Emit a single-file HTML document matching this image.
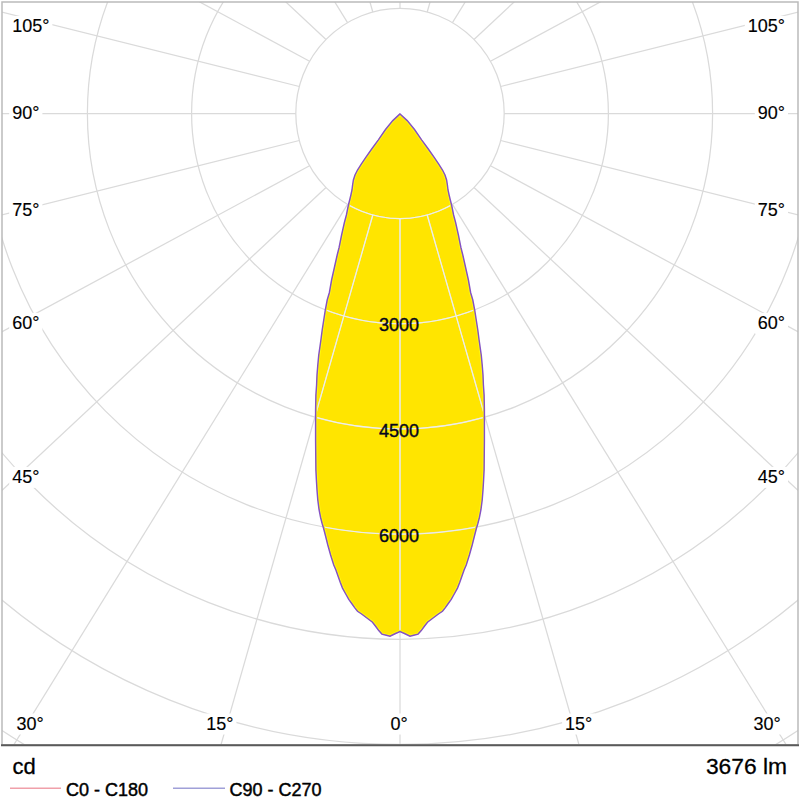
<!DOCTYPE html>
<html><head><meta charset="utf-8"><style>
html,body{margin:0;padding:0;background:#fff;width:800px;height:800px;overflow:hidden}
svg{display:block}
text{font-family:"Liberation Sans",sans-serif;font-size:18px;fill:#000;stroke:#000;stroke-width:0.15px}
.lg{stroke-width:0.45px}
.vl{stroke-width:0.4px;fill:#05051e;stroke:#05051e}
.bt{stroke-width:0.3px}
</style></head><body>
<svg width="800" height="800" viewBox="0 0 800 800">
<defs><clipPath id="pc"><polygon points="400.00,113.90 392.80,120.60 385.50,129.50 378.20,140.10 371.70,149.00 366.00,157.10 361.10,164.40 357.50,170.00 355.00,175.00 353.40,180.00 352.60,185.00 352.00,190.00 350.90,195.00 349.70,200.00 348.40,205.00 347.40,210.00 346.40,215.00 344.40,222.50 341.60,235.00 339.10,247.50 337.20,255.00 334.40,267.50 331.60,280.00 329.40,292.50 327.20,300.00 325.30,310.00 323.75,320.00 322.20,330.00 320.90,340.00 319.90,347.00 318.75,355.00 317.80,365.00 317.00,375.00 316.60,385.00 315.90,395.00 315.60,410.00 315.60,440.00 315.90,470.00 316.40,480.00 317.00,490.00 317.80,500.00 319.10,510.00 320.60,517.50 322.20,523.75 323.50,528.00 325.30,535.00 327.80,545.00 330.60,555.00 333.75,565.00 335.90,570.00 338.10,576.25 340.30,582.50 342.50,588.10 345.60,593.75 348.75,599.40 351.90,603.75 355.00,608.10 357.50,611.25 361.25,613.75 366.25,617.50 372.50,622.20 375.60,626.25 378.75,630.60 381.90,634.10 386.25,635.30 390.00,636.25 395.00,633.75 400.00,631.60 405.00,633.75 410.00,636.25 413.75,635.30 418.10,634.10 421.25,630.60 424.40,626.25 427.50,622.20 433.75,617.50 438.75,613.75 442.50,611.25 445.00,608.10 448.10,603.75 451.25,599.40 454.40,593.75 457.50,588.10 459.70,582.50 461.90,576.25 464.10,570.00 466.25,565.00 469.40,555.00 472.20,545.00 474.70,535.00 476.50,528.00 477.80,523.75 479.40,517.50 480.90,510.00 482.20,500.00 483.00,490.00 483.60,480.00 484.10,470.00 484.40,440.00 484.40,410.00 484.10,395.00 483.40,385.00 483.00,375.00 482.20,365.00 481.25,355.00 480.10,347.00 479.10,340.00 477.80,330.00 476.25,320.00 474.70,310.00 472.80,300.00 470.60,292.50 468.40,280.00 465.60,267.50 462.80,255.00 460.90,247.50 458.40,235.00 455.60,222.50 453.60,215.00 452.60,210.00 451.60,205.00 450.30,200.00 449.10,195.00 448.00,190.00 447.40,185.00 446.60,180.00 445.00,175.00 442.50,170.00 438.90,164.40 434.00,157.10 428.30,149.00 421.80,140.10 414.50,129.50 407.20,120.60"/></clipPath><clipPath id="fr"><rect x="2" y="2" width="796" height="742.5"/></clipPath></defs>
<rect x="0" y="0" width="800" height="800" fill="#fff"/>
<g clip-path="url(#fr)">
<polygon points="400.00,113.90 392.80,120.60 385.50,129.50 378.20,140.10 371.70,149.00 366.00,157.10 361.10,164.40 357.50,170.00 355.00,175.00 353.40,180.00 352.60,185.00 352.00,190.00 350.90,195.00 349.70,200.00 348.40,205.00 347.40,210.00 346.40,215.00 344.40,222.50 341.60,235.00 339.10,247.50 337.20,255.00 334.40,267.50 331.60,280.00 329.40,292.50 327.20,300.00 325.30,310.00 323.75,320.00 322.20,330.00 320.90,340.00 319.90,347.00 318.75,355.00 317.80,365.00 317.00,375.00 316.60,385.00 315.90,395.00 315.60,410.00 315.60,440.00 315.90,470.00 316.40,480.00 317.00,490.00 317.80,500.00 319.10,510.00 320.60,517.50 322.20,523.75 323.50,528.00 325.30,535.00 327.80,545.00 330.60,555.00 333.75,565.00 335.90,570.00 338.10,576.25 340.30,582.50 342.50,588.10 345.60,593.75 348.75,599.40 351.90,603.75 355.00,608.10 357.50,611.25 361.25,613.75 366.25,617.50 372.50,622.20 375.60,626.25 378.75,630.60 381.90,634.10 386.25,635.30 390.00,636.25 395.00,633.75 400.00,631.60 405.00,633.75 410.00,636.25 413.75,635.30 418.10,634.10 421.25,630.60 424.40,626.25 427.50,622.20 433.75,617.50 438.75,613.75 442.50,611.25 445.00,608.10 448.10,603.75 451.25,599.40 454.40,593.75 457.50,588.10 459.70,582.50 461.90,576.25 464.10,570.00 466.25,565.00 469.40,555.00 472.20,545.00 474.70,535.00 476.50,528.00 477.80,523.75 479.40,517.50 480.90,510.00 482.20,500.00 483.00,490.00 483.60,480.00 484.10,470.00 484.40,440.00 484.40,410.00 484.10,395.00 483.40,385.00 483.00,375.00 482.20,365.00 481.25,355.00 480.10,347.00 479.10,340.00 477.80,330.00 476.25,320.00 474.70,310.00 472.80,300.00 470.60,292.50 468.40,280.00 465.60,267.50 462.80,255.00 460.90,247.50 458.40,235.00 455.60,222.50 453.60,215.00 452.60,210.00 451.60,205.00 450.30,200.00 449.10,195.00 448.00,190.00 447.40,185.00 446.60,180.00 445.00,175.00 442.50,170.00 438.90,164.40 434.00,157.10 428.30,149.00 421.80,140.10 414.50,129.50 407.20,120.60" fill="#ffe500"/>
<g fill="none" stroke="#dadada" stroke-width="1.25">
<ellipse cx="400.0" cy="113.5" rx="104.20" ry="105.15"/>
<ellipse cx="400.0" cy="113.5" rx="208.40" ry="210.30"/>
<ellipse cx="400.0" cy="113.5" rx="312.60" ry="315.45"/>
<ellipse cx="400.0" cy="113.5" rx="416.80" ry="420.60"/>
<ellipse cx="400.0" cy="113.5" rx="521.00" ry="525.75"/>
<ellipse cx="400.0" cy="113.5" rx="625.20" ry="630.90"/>
<ellipse cx="400.0" cy="113.5" rx="729.40" ry="736.05"/>
<ellipse cx="400.0" cy="113.5" rx="833.60" ry="841.20"/>
<line x1="400.00" y1="218.65" x2="400.00" y2="1418.65"/>
<line x1="427.20" y1="215.00" x2="757.78" y2="1368.57"/>
<line x1="452.46" y1="204.35" x2="1082.93" y2="1225.39"/>
<line x1="474.01" y1="187.51" x2="1350.55" y2="1007.08"/>
<line x1="490.44" y1="165.72" x2="1546.41" y2="735.75"/>
<line x1="500.71" y1="140.49" x2="1664.74" y2="432.11"/>
<line x1="504.20" y1="113.50" x2="1704.20" y2="113.50"/>
<line x1="500.71" y1="86.51" x2="1664.74" y2="-205.11"/>
<line x1="490.44" y1="61.28" x2="1546.41" y2="-508.75"/>
<line x1="474.01" y1="39.49" x2="1350.55" y2="-780.08"/>
<line x1="452.46" y1="22.65" x2="1082.93" y2="-998.39"/>
<line x1="427.20" y1="12.00" x2="757.78" y2="-1141.57"/>
<line x1="400.00" y1="8.35" x2="400.00" y2="-1191.65"/>
<line x1="372.80" y1="12.00" x2="42.22" y2="-1141.57"/>
<line x1="347.54" y1="22.65" x2="-282.93" y2="-998.39"/>
<line x1="325.99" y1="39.49" x2="-550.55" y2="-780.08"/>
<line x1="309.56" y1="61.28" x2="-746.41" y2="-508.75"/>
<line x1="299.29" y1="86.51" x2="-864.74" y2="-205.11"/>
<line x1="295.80" y1="113.50" x2="-904.20" y2="113.50"/>
<line x1="299.29" y1="140.49" x2="-864.74" y2="432.11"/>
<line x1="309.56" y1="165.72" x2="-746.41" y2="735.75"/>
<line x1="325.99" y1="187.51" x2="-550.55" y2="1007.08"/>
<line x1="347.54" y1="204.35" x2="-282.93" y2="1225.39"/>
<line x1="372.80" y1="215.00" x2="42.22" y2="1368.57"/>
</g>
<g fill="none" stroke="#f2f1e0" stroke-width="1.1" clip-path="url(#pc)">
<ellipse cx="400.0" cy="113.5" rx="104.20" ry="105.15"/>
<ellipse cx="400.0" cy="113.5" rx="208.40" ry="210.30"/>
<ellipse cx="400.0" cy="113.5" rx="312.60" ry="315.45"/>
<ellipse cx="400.0" cy="113.5" rx="416.80" ry="420.60"/>
<ellipse cx="400.0" cy="113.5" rx="521.00" ry="525.75"/>
<ellipse cx="400.0" cy="113.5" rx="625.20" ry="630.90"/>
<ellipse cx="400.0" cy="113.5" rx="729.40" ry="736.05"/>
<ellipse cx="400.0" cy="113.5" rx="833.60" ry="841.20"/>
<line x1="400.00" y1="218.65" x2="400.00" y2="1418.65"/>
<line x1="427.20" y1="215.00" x2="757.78" y2="1368.57"/>
<line x1="452.46" y1="204.35" x2="1082.93" y2="1225.39"/>
<line x1="474.01" y1="187.51" x2="1350.55" y2="1007.08"/>
<line x1="490.44" y1="165.72" x2="1546.41" y2="735.75"/>
<line x1="500.71" y1="140.49" x2="1664.74" y2="432.11"/>
<line x1="504.20" y1="113.50" x2="1704.20" y2="113.50"/>
<line x1="500.71" y1="86.51" x2="1664.74" y2="-205.11"/>
<line x1="490.44" y1="61.28" x2="1546.41" y2="-508.75"/>
<line x1="474.01" y1="39.49" x2="1350.55" y2="-780.08"/>
<line x1="452.46" y1="22.65" x2="1082.93" y2="-998.39"/>
<line x1="427.20" y1="12.00" x2="757.78" y2="-1141.57"/>
<line x1="400.00" y1="8.35" x2="400.00" y2="-1191.65"/>
<line x1="372.80" y1="12.00" x2="42.22" y2="-1141.57"/>
<line x1="347.54" y1="22.65" x2="-282.93" y2="-998.39"/>
<line x1="325.99" y1="39.49" x2="-550.55" y2="-780.08"/>
<line x1="309.56" y1="61.28" x2="-746.41" y2="-508.75"/>
<line x1="299.29" y1="86.51" x2="-864.74" y2="-205.11"/>
<line x1="295.80" y1="113.50" x2="-904.20" y2="113.50"/>
<line x1="299.29" y1="140.49" x2="-864.74" y2="432.11"/>
<line x1="309.56" y1="165.72" x2="-746.41" y2="735.75"/>
<line x1="325.99" y1="187.51" x2="-550.55" y2="1007.08"/>
<line x1="347.54" y1="204.35" x2="-282.93" y2="1225.39"/>
<line x1="372.80" y1="215.00" x2="42.22" y2="1368.57"/>
</g>
<polygon points="400.00,113.90 392.80,120.60 385.50,129.50 378.20,140.10 371.70,149.00 366.00,157.10 361.10,164.40 357.50,170.00 355.00,175.00 353.40,180.00 352.60,185.00 352.00,190.00 350.90,195.00 349.70,200.00 348.40,205.00 347.40,210.00 346.40,215.00 344.40,222.50 341.60,235.00 339.10,247.50 337.20,255.00 334.40,267.50 331.60,280.00 329.40,292.50 327.20,300.00 325.30,310.00 323.75,320.00 322.20,330.00 320.90,340.00 319.90,347.00 318.75,355.00 317.80,365.00 317.00,375.00 316.60,385.00 315.90,395.00 315.60,410.00 315.60,440.00 315.90,470.00 316.40,480.00 317.00,490.00 317.80,500.00 319.10,510.00 320.60,517.50 322.20,523.75 323.50,528.00 325.30,535.00 327.80,545.00 330.60,555.00 333.75,565.00 335.90,570.00 338.10,576.25 340.30,582.50 342.50,588.10 345.60,593.75 348.75,599.40 351.90,603.75 355.00,608.10 357.50,611.25 361.25,613.75 366.25,617.50 372.50,622.20 375.60,626.25 378.75,630.60 381.90,634.10 386.25,635.30 390.00,636.25 395.00,633.75 400.00,631.60 405.00,633.75 410.00,636.25 413.75,635.30 418.10,634.10 421.25,630.60 424.40,626.25 427.50,622.20 433.75,617.50 438.75,613.75 442.50,611.25 445.00,608.10 448.10,603.75 451.25,599.40 454.40,593.75 457.50,588.10 459.70,582.50 461.90,576.25 464.10,570.00 466.25,565.00 469.40,555.00 472.20,545.00 474.70,535.00 476.50,528.00 477.80,523.75 479.40,517.50 480.90,510.00 482.20,500.00 483.00,490.00 483.60,480.00 484.10,470.00 484.40,440.00 484.40,410.00 484.10,395.00 483.40,385.00 483.00,375.00 482.20,365.00 481.25,355.00 480.10,347.00 479.10,340.00 477.80,330.00 476.25,320.00 474.70,310.00 472.80,300.00 470.60,292.50 468.40,280.00 465.60,267.50 462.80,255.00 460.90,247.50 458.40,235.00 455.60,222.50 453.60,215.00 452.60,210.00 451.60,205.00 450.30,200.00 449.10,195.00 448.00,190.00 447.40,185.00 446.60,180.00 445.00,175.00 442.50,170.00 438.90,164.40 434.00,157.10 428.30,149.00 421.80,140.10 414.50,129.50 407.20,120.60" fill="none" stroke="#fffa10" stroke-width="3.2" clip-path="url(#pc)"/>
<polygon points="400.00,113.90 392.80,120.60 385.50,129.50 378.20,140.10 371.70,149.00 366.00,157.10 361.10,164.40 357.50,170.00 355.00,175.00 353.40,180.00 352.60,185.00 352.00,190.00 350.90,195.00 349.70,200.00 348.40,205.00 347.40,210.00 346.40,215.00 344.40,222.50 341.60,235.00 339.10,247.50 337.20,255.00 334.40,267.50 331.60,280.00 329.40,292.50 327.20,300.00 325.30,310.00 323.75,320.00 322.20,330.00 320.90,340.00 319.90,347.00 318.75,355.00 317.80,365.00 317.00,375.00 316.60,385.00 315.90,395.00 315.60,410.00 315.60,440.00 315.90,470.00 316.40,480.00 317.00,490.00 317.80,500.00 319.10,510.00 320.60,517.50 322.20,523.75 323.50,528.00 325.30,535.00 327.80,545.00 330.60,555.00 333.75,565.00 335.90,570.00 338.10,576.25 340.30,582.50 342.50,588.10 345.60,593.75 348.75,599.40 351.90,603.75 355.00,608.10 357.50,611.25 361.25,613.75 366.25,617.50 372.50,622.20 375.60,626.25 378.75,630.60 381.90,634.10 386.25,635.30 390.00,636.25 395.00,633.75 400.00,631.60 405.00,633.75 410.00,636.25 413.75,635.30 418.10,634.10 421.25,630.60 424.40,626.25 427.50,622.20 433.75,617.50 438.75,613.75 442.50,611.25 445.00,608.10 448.10,603.75 451.25,599.40 454.40,593.75 457.50,588.10 459.70,582.50 461.90,576.25 464.10,570.00 466.25,565.00 469.40,555.00 472.20,545.00 474.70,535.00 476.50,528.00 477.80,523.75 479.40,517.50 480.90,510.00 482.20,500.00 483.00,490.00 483.60,480.00 484.10,470.00 484.40,440.00 484.40,410.00 484.10,395.00 483.40,385.00 483.00,375.00 482.20,365.00 481.25,355.00 480.10,347.00 479.10,340.00 477.80,330.00 476.25,320.00 474.70,310.00 472.80,300.00 470.60,292.50 468.40,280.00 465.60,267.50 462.80,255.00 460.90,247.50 458.40,235.00 455.60,222.50 453.60,215.00 452.60,210.00 451.60,205.00 450.30,200.00 449.10,195.00 448.00,190.00 447.40,185.00 446.60,180.00 445.00,175.00 442.50,170.00 438.90,164.40 434.00,157.10 428.30,149.00 421.80,140.10 414.50,129.50 407.20,120.60" fill="none" stroke="#8452c4" stroke-width="1.45"/>
<rect x="9.2" y="15.9" width="43.2" height="21.0" fill="#fff"/>
<text x="12.2" y="32.4" text-anchor="start">105°</text>
<rect x="9.2" y="102.3" width="33.2" height="21.0" fill="#fff"/>
<text x="12.2" y="118.8" text-anchor="start">90°</text>
<rect x="9.2" y="199.8" width="33.2" height="21.0" fill="#fff"/>
<text x="12.2" y="216.3" text-anchor="start">75°</text>
<rect x="9.2" y="312.8" width="33.2" height="21.0" fill="#fff"/>
<text x="12.2" y="329.3" text-anchor="start">60°</text>
<rect x="9.2" y="466.9" width="33.2" height="21.0" fill="#fff"/>
<text x="12.2" y="483.4" text-anchor="start">45°</text>
<rect x="744.8" y="15.9" width="43.2" height="21.0" fill="#fff"/>
<text x="785.0" y="32.4" text-anchor="end">105°</text>
<rect x="754.8" y="102.3" width="33.2" height="21.0" fill="#fff"/>
<text x="785.0" y="118.8" text-anchor="end">90°</text>
<rect x="754.8" y="199.8" width="33.2" height="21.0" fill="#fff"/>
<text x="785.0" y="216.3" text-anchor="end">75°</text>
<rect x="754.8" y="312.8" width="33.2" height="21.0" fill="#fff"/>
<text x="785.0" y="329.3" text-anchor="end">60°</text>
<rect x="754.8" y="466.9" width="33.2" height="21.0" fill="#fff"/>
<text x="785.0" y="483.4" text-anchor="end">45°</text>
<rect x="13.4" y="713.5" width="33.2" height="21.0" fill="#fff"/>
<text x="30.0" y="730.0" text-anchor="middle">30°</text>
<rect x="203.2" y="713.5" width="33.2" height="21.0" fill="#fff"/>
<text x="219.8" y="730.0" text-anchor="middle">15°</text>
<rect x="387.4" y="713.5" width="23.2" height="21.0" fill="#fff"/>
<text x="399.0" y="730.0" text-anchor="middle">0°</text>
<rect x="562.1" y="713.5" width="33.2" height="21.0" fill="#fff"/>
<text x="578.7" y="730.0" text-anchor="middle">15°</text>
<rect x="750.4" y="713.5" width="33.2" height="21.0" fill="#fff"/>
<text x="767.0" y="730.0" text-anchor="middle">30°</text>
<text class="vl" x="399" y="331.2" text-anchor="middle">3000</text>
<text class="vl" x="399" y="436.6" text-anchor="middle">4500</text>
<text class="vl" x="399" y="542.0" text-anchor="middle">6000</text>
</g>
<rect x="2" y="2" width="796" height="743" fill="none" stroke="#bababa" stroke-width="1.5"/>
<line x1="1" y1="745.3" x2="799" y2="745.3" stroke="#5a5a5a" stroke-width="2.1"/>
<text class="bt" x="12.5" y="773.5" style="font-size:22px">cd</text>
<text class="bt" x="787" y="773.5" text-anchor="end" style="font-size:22.8px">3676 lm</text>
<line x1="10" y1="788.3" x2="61" y2="788.3" stroke="#f0a0aa" stroke-width="1.5"/>
<text class="lg" x="66" y="796">C0 - C180</text>
<line x1="173" y1="788.3" x2="225" y2="788.3" stroke="#a0a0d8" stroke-width="1.5"/>
<text class="lg" x="229.5" y="796">C90 - C270</text>
</svg>
</body></html>
